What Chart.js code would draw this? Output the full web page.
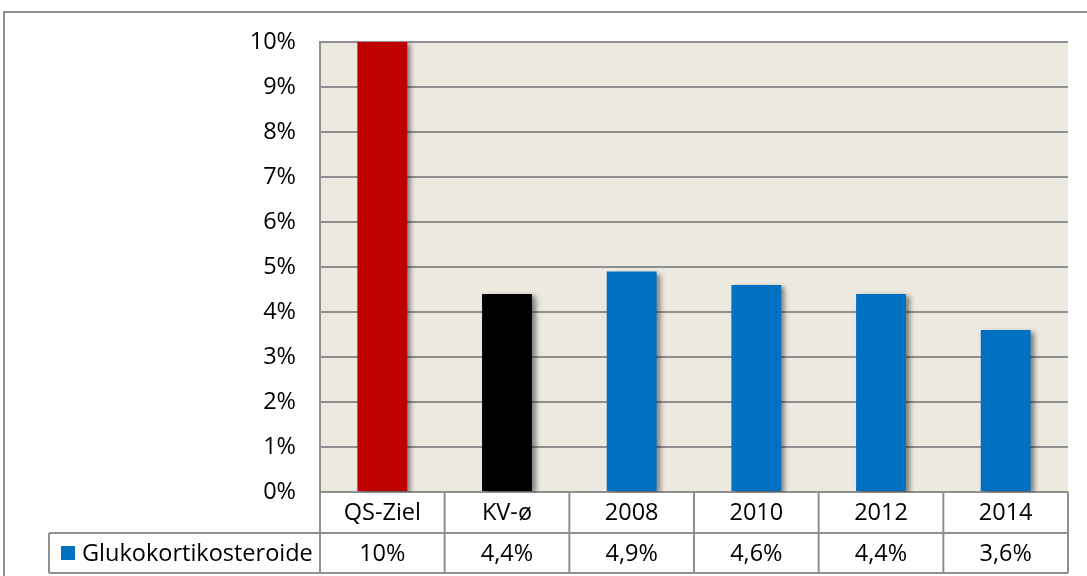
<!DOCTYPE html>
<html>
<head>
<meta charset="utf-8">
<script src="https://cdn.jsdelivr.net/npm/chart.js@4.4.1/dist/chart.umd.min.js"></script>
<style>
  html, body { margin: 0; padding: 0; background: #fff; }
  #wrap { width: 1087px; height: 576px; }
</style>
</head>
<body>
<div id="wrap"><canvas id="myChart" width="1087" height="576"></canvas></div>
<script>
var categories = ['QS-Ziel', 'KV-\u00f8', '2008', '2010', '2012', '2014'];
var values = [10, 4.4, 4.9, 4.6, 4.4, 3.6];
var barColors = ['#C00000', '#000000', '#0070C0', '#0070C0', '#0070C0', '#0070C0'];
var seriesName = 'Glukokortikosteroide';
var yTicks = [0, 1, 2, 3, 4, 5, 6, 7, 8, 9, 10];

var FONT = '"Open Sans", "Noto Sans", sans-serif';
var FSIZE = 23.5;
var LINE = '#8f8f8f';

function fmt(v) {
    return v.toString().replace('.', ',') + '%';
}

// plot background + outer frame
var bgPlugin = {
    id: 'bg',
    beforeDraw: function (chart) {
        var ctx = chart.ctx, a = chart.chartArea;
        ctx.save();
        ctx.fillStyle = '#ECEAE0';
        ctx.fillRect(a.left, a.top, a.right - a.left, a.bottom - a.top);
        ctx.strokeStyle = LINE;
        ctx.lineWidth = 2;
        ctx.strokeRect(4, 12, 1200, 700);
        ctx.restore();
    }
};

// soft shadow behind the bars
var shadowPlugin = {
    id: 'shadow',
    beforeDatasetDraw: function (chart) {
        var ctx = chart.ctx;
        ctx.save();
        ctx.shadowColor = 'rgba(0,0,0,0.45)';
        ctx.shadowOffsetX = 4;
        ctx.shadowOffsetY = 2;
        ctx.shadowBlur = 5;
    },
    afterDatasetDraw: function (chart) {
        chart.ctx.restore();
    }
};

// data table under the plot
var tablePlugin = {
    id: 'table',
    afterDraw: function (chart) {
        var ctx = chart.ctx, a = chart.chartArea, x = chart.scales.x;
        var n = categories.length;
        var w = (a.right - a.left) / n;
        var y0 = a.bottom, y1 = a.bottom + 41, y2 = a.bottom + 81;
        var legLeft = 49;
        ctx.save();
        ctx.strokeStyle = LINE;
        ctx.lineWidth = 2;
        ctx.beginPath();
        ctx.moveTo(legLeft, y1); ctx.lineTo(a.right, y1);
        ctx.moveTo(legLeft, y2); ctx.lineTo(a.right, y2);
        ctx.moveTo(legLeft, y1); ctx.lineTo(legLeft, y2);
        for (var i = 0; i <= n; i++) {
            var xx = a.left + i * w;
            ctx.moveTo(xx, y0); ctx.lineTo(xx, y2);
        }
        ctx.stroke();

        ctx.fillStyle = '#000';
        ctx.font = FSIZE + 'px ' + FONT;
        ctx.textAlign = 'center';
        ctx.textBaseline = 'middle';
        for (var j = 0; j < n; j++) {
            var cx = x.getPixelForValue(j);
            ctx.fillText(categories[j], cx, (y0 + y1) / 2 + 1);
            ctx.fillText(fmt(values[j]), cx, (y1 + y2) / 2 + 1);
        }
        // legend key
        ctx.fillStyle = '#0070C0';
        ctx.fillRect(61, (y1 + y2) / 2 - 7, 14, 14);
        ctx.fillStyle = '#000';
        ctx.textAlign = 'left';
        ctx.fillText(seriesName, 82, (y1 + y2) / 2 + 1);
        ctx.restore();
    }
};

var ctx = document.getElementById('myChart').getContext('2d');
var myChart = new Chart(ctx, {
    type: 'bar',
    data: {
        labels: categories,
        datasets: [{
            label: seriesName,
            data: values,
            backgroundColor: barColors,
            borderWidth: 0,
            barPercentage: 0.4,
            categoryPercentage: 1.0
        }]
    },
    options: {
        responsive: false,
        animation: false,
        layout: { padding: { left: 0, right: 19, top: 42, bottom: 84 } },
        plugins: {
            legend: { display: false },
            tooltip: { enabled: false }
        },
        scales: {
            x: {
                display: false
            },
            y: {
                min: 0,
                max: 10,
                afterFit: function (scale) { scale.width = 320; },
                afterBuildTicks: function (scale) {
                    scale.ticks = yTicks.map(function (v) { return { value: v }; });
                },
                ticks: {
                    color: '#000',
                    padding: 24,
                    font: { family: FONT, size: FSIZE },
                    callback: function (v) { return v + '%'; }
                },
                grid: {
                    color: LINE,
                    lineWidth: 2,
                    drawTicks: false
                },
                border: { display: true, color: LINE, width: 2 }
            }
        }
    },
    plugins: [bgPlugin, shadowPlugin, tablePlugin]
});
</script>
</body>
</html>
